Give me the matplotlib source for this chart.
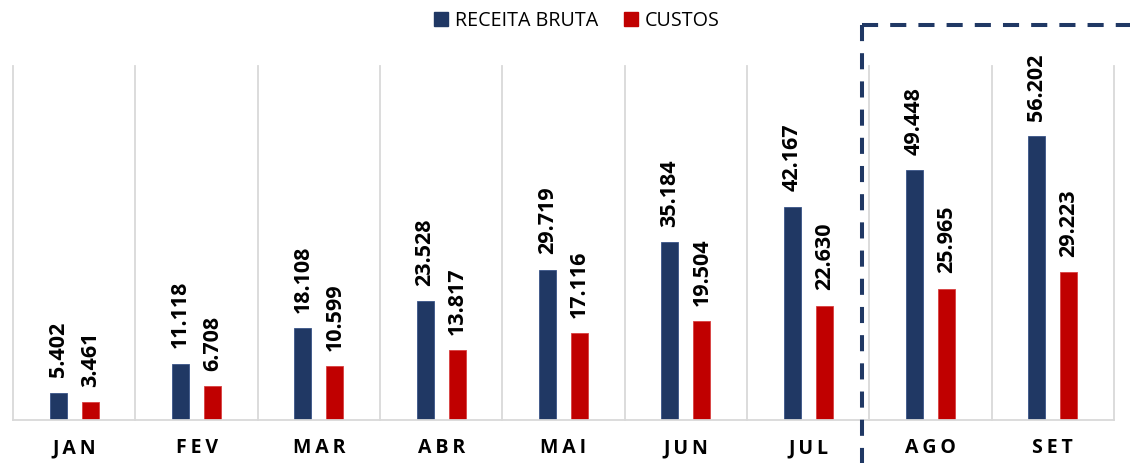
import numpy as np
import matplotlib.pyplot as plt
from matplotlib.patches import Patch
from matplotlib.lines import Line2D

plt.rcParams['font.family'] = ['Open Sans', 'DejaVu Sans']

meses = ['JAN', 'FEV', 'MAR', 'ABR', 'MAI', 'JUN', 'JUL', 'AGO', 'SET']
receita = [5402, 11118, 18108, 23528, 29719, 35184, 42167, 49448, 56202]
custos = [3461, 6708, 10599, 13817, 17116, 19504, 22630, 25965, 29223]

azul = '#203864'
vermelho = '#C00000'
cinza = '#D9D9D9'

fig = plt.figure(figsize=(11.3, 4.63), dpi=100)
ax = fig.add_axes([13 / 1130, 1 - 420 / 463, (1114 - 13) / 1130, (420 - 66) / 463])

x = np.arange(len(meses))
off = 0.131
w = 0.139
b1 = ax.bar(x - off, receita, w, color=azul, edgecolor='#3A5488', linewidth=0.6)
b2 = ax.bar(x + off, custos, w, color=vermelho, edgecolor='#D84040', linewidth=0.6)


def fmt(v):
    return f'{v:,}'.replace(',', '.')


for bars, vals in [(b1, receita), (b2, custos)]:
    for r, v in zip(bars, vals):
        ax.annotate(fmt(v), (r.get_x() + r.get_width() / 2, v),
                    xytext=(0, 11), textcoords='offset points',
                    rotation=90, ha='center', va='bottom',
                    fontsize=15.5, fontweight='bold', color='black')

# linhas verticais entre os meses
for xb in np.arange(-0.5, len(meses), 1.0):
    ax.axvline(xb, color=cinza, linewidth=1.3, clip_on=False, zorder=0)

ax.set_xlim(-0.5, len(meses) - 0.5)
ax.set_ylim(0, 70000)
ax.set_yticks([])
ax.set_xticks(x)
ax.set_xticklabels(['\u2009'.join(m) for m in meses], fontsize=14, fontweight='bold')
ax.tick_params(axis='x', length=0, pad=13)
for s in ['top', 'right', 'left']:
    ax.spines[s].set_visible(False)
ax.spines['bottom'].set_color(cinza)
ax.spines['bottom'].set_linewidth(1.3)

# legenda
handles = [Patch(color=azul), Patch(color=vermelho)]
fig.legend(handles, ['RECEITA BRUTA', 'CUSTOS'], loc='center',
           bbox_to_anchor=(577 / 1130, 1 - 21 / 463), ncol=2, frameon=False,
           fontsize=14.2, handlelength=0.7, handleheight=0.7,
           handletextpad=0.35, columnspacing=1.3)

# destaque tracejado AGO/SET
xc = 862 / 1130
yc = 1 - 24.5 / 463
estilo = dict(color=azul, linewidth=2.9, linestyle=(0, (4, 3)), solid_capstyle='butt',
              dash_capstyle='butt', transform=fig.transFigure)
fig.add_artist(Line2D([xc, xc], [yc, 0], **estilo))
fig.add_artist(Line2D([xc, 1.0], [yc, yc], **estilo))

fig.savefig('out.png', dpi=100)
